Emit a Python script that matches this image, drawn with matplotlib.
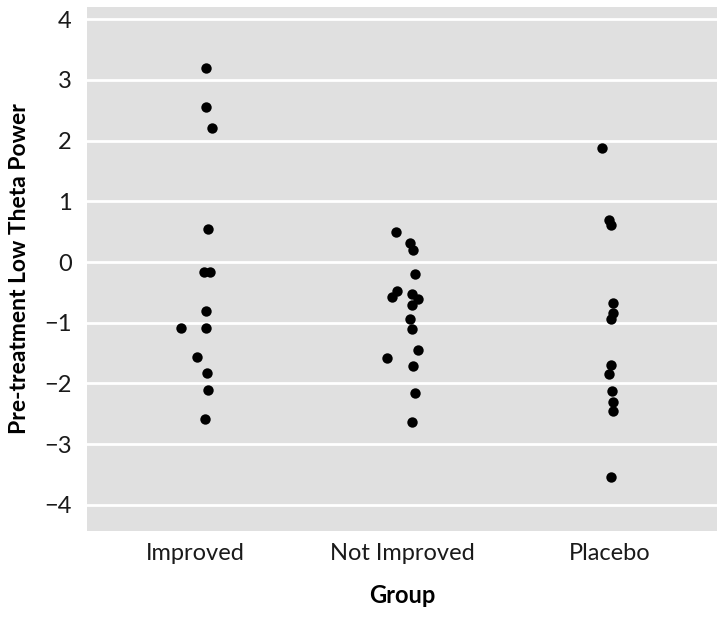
import matplotlib
matplotlib.use("Agg")
import matplotlib.pyplot as plt
import numpy as np

plt.rcParams['font.family'] = ['Lato', 'DejaVu Sans']

groups = ["Improved", "Not Improved", "Placebo"]

# values, with the horizontal jitter of each dot
improved_y = [3.19, 2.56, 2.21, 0.54, -0.17, -0.17, -0.80, -1.08, -1.08, -1.56, -1.83, -2.10, -2.59]
improved_dx = [0.052, 0.050, 0.079, 0.063, 0.043, 0.071, 0.052, -0.071, 0.052, 0.007, 0.057, 0.063, 0.047]

notimp_y = [0.49, 0.32, 0.20, -0.20, -0.48, -0.58, -0.53, -0.61, -0.70, -0.94, -1.11, -1.45, -1.58, -1.71, -2.16, -2.64]
notimp_dx = [-0.030, 0.037, 0.053, 0.061, -0.024, -0.048, 0.045, 0.074, 0.048, 0.037, 0.048, 0.074, -0.072, 0.053, 0.061, 0.045]

placebo_y = [1.88, 0.69, 0.61, -0.67, -0.84, -0.94, -1.70, -1.85, -2.13, -2.30, -2.46, -3.54]
placebo_dx = [-0.034, 0.000, 0.008, 0.019, 0.016, 0.008, 0.008, 0.000, 0.012, 0.019, 0.019, 0.008]

yticks = [-4, -3, -2, -1, 0, 1, 2, 3, 4]

fig = plt.figure(figsize=(7.24, 6.2), dpi=100)
ax = fig.add_axes([87/724, 89/620, 630/724, 524/620])
ax.set_facecolor('#e0e0e0')

all_y = [improved_y, notimp_y, placebo_y]
all_dx = [improved_dx, notimp_dx, placebo_dx]
for i in range(3):
    xs = np.array(all_dx[i]) + i + 1
    ax.scatter(xs, all_y[i], s=56, color='black', zorder=3, linewidths=0)

ax.set_xlim(0.477, 3.52)
ax.set_ylim(-4.43, 4.2)
ax.set_yticks(yticks)
ax.set_yticklabels(['\u2212' + str(-t) if t < 0 else str(t) for t in yticks])
ax.set_xticks([1, 2, 3])
ax.set_xticklabels(groups)
ax.grid(axis='y', color='white', linewidth=2)
ax.grid(axis='x', visible=False)
ax.set_axisbelow(True)
for s in ax.spines.values():
    s.set_visible(False)
ax.tick_params(length=0, labelsize=17, colors='#1a1a1a', pad=9)
ax.tick_params(axis='y', pad=11)

ax.set_xlabel('Group', fontsize=17, fontweight='bold', labelpad=14)
ax.set_ylabel('Pre-treatment Low Theta Power', fontsize=16.5, fontweight='bold', labelpad=10)

fig.savefig('out.png', dpi=100)
